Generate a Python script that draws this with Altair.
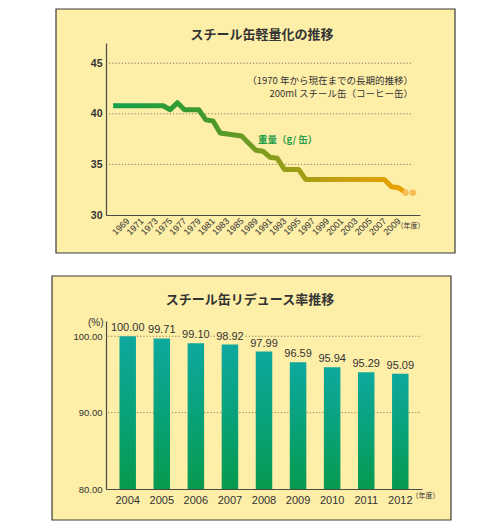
import altair as alt
import pandas as pd

JP = "Noto Sans CJK JP"
NUM = "Liberation Sans"
BG = "#fdeea8"
INK = "#333333"

# --- steel can weight (g / can), 200ml coffee can ---
YEARS = ["1967", "1968", "1969", "1970", "1971", "1972", "1973", "1974", "1975",
         "1976", "1977", "1978", "1979", "1980", "1981", "1982", "1983", "1984",
         "1985", "1987", "1989", "1990", "1991", "1992", "1993", "1994", "1995",
         "1996", "1997", "1998", "1999", "2000", "2001", "2002", "2003", "2004",
         "2005", "2006", "2007", "2008", "2009", "2010", "2011"]
WEIGHT = [40.8, 40.8, 40.8, 40.8, 40.8, 40.8, 40.8, 40.8, 40.4,
          41.1, 40.4, 40.4, 40.4, 39.4, 39.3, 38.1, 38.0, 37.9,
          37.8, 37.1, 36.4, 36.3, 35.7, 35.6, 34.5, 34.5, 34.5,
          33.5, 33.5, 33.5, 33.5, 33.5, 33.5, 33.5, 33.5, 33.5,
          33.5, 33.5, 33.5, 32.8, 32.7, 32.2]
PROJ_YEARS = ["2010", "2011"]
PROJ = [32.2, 32.2]
TICK_YEARS = ["1969", "1971", "1973", "1975", "1977", "1979", "1981", "1983",
              "1985", "1989", "1991", "1993", "1995", "1997", "1999", "2001",
              "2003", "2005", "2007", "2009"]
GRID_TOP = [35, 40, 45]

# --- reduce rate (%) ---
RATE_YEARS = ["2004", "2005", "2006", "2007", "2008", "2009", "2010", "2011", "2012"]
RATE = [100.00, 99.71, 99.10, 98.92, 97.99, 96.59, 95.94, 95.29, 95.09]
GRID_BOTTOM = [90, 100]

weight_df = pd.DataFrame({"year": YEARS[:len(WEIGHT)], "weight": WEIGHT})
proj_df = pd.DataFrame({"year": PROJ_YEARS, "weight": PROJ})
grid_top_df = pd.DataFrame({"weight": GRID_TOP})
rate_df = pd.DataFrame({"year": RATE_YEARS, "rate": RATE})
grid_bottom_df = pd.DataFrame({"rate": GRID_BOTTOM})
one = pd.DataFrame({"a": [0]})


def panel(x1, x2, y1, y2):
    return alt.Chart(one).mark_rect(fill=BG, stroke="#3a3a3a", strokeWidth=1.2).encode(
        x=alt.value(x1), x2=alt.value(x2), y=alt.value(y1), y2=alt.value(y2)
    )


def note(text, x, y, size=9.5, color=INK, align="right", weight="normal"):
    return alt.Chart(one).mark_text(
        text=text, font=JP, fontSize=size, color=color, align=align,
        baseline="middle", fontWeight=weight
    ).encode(x=alt.value(x), y=alt.value(y))


# ---------------- top: weight line ----------------
x_top = alt.X("year:O", sort=YEARS,
              scale=alt.Scale(type="point", domain=YEARS, padding=1.1),
              axis=alt.Axis(values=TICK_YEARS, labelAngle=-45, labelAlign="right",
                            labelBaseline="middle", labelFontSize=9, labelFont=NUM,
                            labelColor=INK, labelPadding=4, ticks=False, zindex=1,
                            domainColor="#4a4a4a", domainWidth=1.2,
                            title="（年度）", titleFont=JP, titleFontSize=7,
                            titleFontWeight="normal", titleColor=INK,
                            titleX=318, titleY=10, titleAlign="right",
                            titleBaseline="middle"))
y_top = alt.Y("weight:Q", scale=alt.Scale(domain=[30, 47]),
              axis=alt.Axis(values=[30, 35, 40, 45], grid=False, ticks=False, zindex=1,
                            labelFontSize=10.5, labelFontWeight="bold", labelFont=NUM,
                            labelColor=INK, labelPadding=4,
                            domainColor="#4a4a4a", domainWidth=1.2, title=None))

line_grad = alt.Gradient(
    gradient="linear", x1=0, x2=1, y1=0, y2=0,
    stops=[alt.GradientStop(color="#12a04c", offset=0),
           alt.GradientStop(color="#3f9a2c", offset=0.3),
           alt.GradientStop(color="#8a9c1c", offset=0.55),
           alt.GradientStop(color="#c9a00c", offset=0.78),
           alt.GradientStop(color="#eba000", offset=1)])

grid_top = alt.Chart(grid_top_df).mark_rule(
    color="#8a7d62", strokeDash=[1.2, 2], strokeWidth=1
).encode(y=y_top, x=alt.value(3), x2=alt.value(307))

weight_line = alt.Chart(weight_df).mark_line(
    stroke=line_grad, strokeWidth=5, strokeJoin="round"
).encode(x=x_top, y=y_top)

proj_dots = alt.Chart(proj_df).mark_circle(
    color="#f6bf5a", size=40, opacity=1
).encode(x=x_top, y=y_top)

top = alt.layer(
    panel(-50, 349, -34, 210),
    grid_top,
    weight_line,
    proj_dots,
    note("スチール缶軽量化の推移", 156, -8, size=13, align="center", weight="bold"),
    note("（1970 年から現在までの長期的推移）", 307, 38),
    note("200ml スチール缶（コーヒー缶）", 307, 51),
    note("重量（g/ 缶）", 152, 97, color="#1e9e4a", align="left", weight="bold"),
).properties(width=314, height=172)

# ---------------- bottom: reduce rate bars ----------------
x_bot = alt.X("year:N", sort=RATE_YEARS,
              scale=alt.Scale(paddingInner=0.516, paddingOuter=0.395),
              axis=alt.Axis(labelAngle=0, ticks=False, labelFontSize=11, labelFont=NUM,
                            labelColor=INK, labelPadding=5, zindex=1,
                            domainColor="#4a4a4a", domainWidth=1.2,
                            title="（年度）", titleFont=JP, titleFontSize=7,
                            titleFontWeight="normal", titleColor=INK,
                            titleX=333, titleY=6, titleAlign="right",
                            titleBaseline="middle"))
y_bot = alt.Y("rate:Q", scale=alt.Scale(domain=[80, 102]),
              axis=alt.Axis(values=[80, 90, 100], format=".2f", grid=False, ticks=False,
                            labelFontSize=9.5, labelFont=NUM, labelColor=INK, zindex=1,
                            labelPadding=4, domainColor="#4a4a4a", domainWidth=1.2,
                            title="(%)", titleAngle=0, titleFont=NUM, titleFontSize=10,
                            titleFontWeight="normal", titleColor=INK,
                            titleX=-3, titleY=1, titleAlign="right",
                            titleBaseline="middle"))

bar_grad = alt.Gradient(
    gradient="linear", x1=0, x2=0, y1=0, y2=1,
    stops=[alt.GradientStop(color="#0ea89e", offset=0),
           alt.GradientStop(color="#08a27a", offset=0.5),
           alt.GradientStop(color="#069a4e", offset=1)])

grid_bot = alt.Chart(grid_bottom_df).mark_rule(
    color="#8a7d62", strokeDash=[1.2, 2], strokeWidth=1
).encode(y=y_bot, x=alt.value(2), x2=alt.value(315))

bars = alt.Chart(rate_df).mark_bar(fill=bar_grad).encode(
    x=x_bot, y=y_bot, y2=alt.datum(80)
)

halo = alt.Chart(rate_df).mark_text(
    font=NUM, fontSize=11, baseline="bottom", dy=-3, color=BG,
    stroke=BG, strokeWidth=3
).encode(x=x_bot, y=y_bot, text=alt.Text("rate:Q", format=".2f"))

labels = alt.Chart(rate_df).mark_text(
    font=NUM, fontSize=11, baseline="bottom", dy=-3, color=INK
).encode(x=x_bot, y=y_bot, text=alt.Text("rate:Q", format=".2f"))

bottom = alt.layer(
    panel(-54, 345, -45, 199),
    grid_bot,
    bars,
    halo,
    labels,
    note("スチール缶リデュース率推移", 144, -21, size=13, align="center", weight="bold"),
).properties(width=316, height=168)

chart = alt.vconcat(top, bottom, spacing=21).properties(
    padding={"left": 43, "top": 0, "right": 0, "bottom": 0}
).configure_view(stroke=None)

chart.save("out.html", embed_options={"renderer": "svg", "actions": False})
